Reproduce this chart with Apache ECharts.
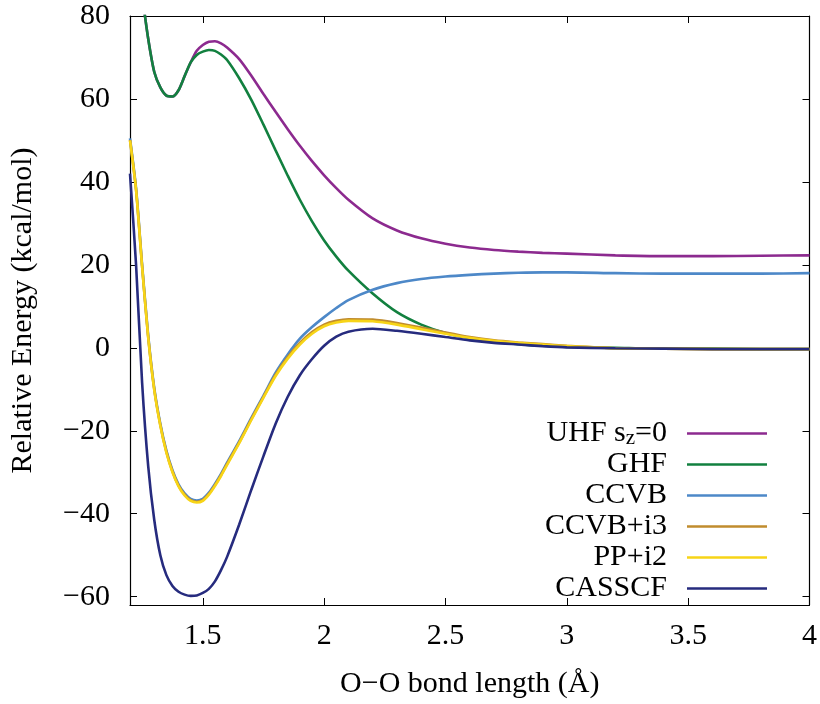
<!DOCTYPE html>
<html>
<head>
<meta charset="utf-8">
<script src="https://cdn.jsdelivr.net/npm/echarts@6/dist/echarts.min.js"></script>
<style>
  html, body { margin: 0; padding: 0; background: #fff; }
  #main { width: 820px; height: 704px; }
</style>
</head>
<body>
<div id="main"></div>
<script>
// O-O bond length (Angstrom)
var bondLength = [1.20, 1.225, 1.25, 1.275, 1.30, 1.325, 1.35, 1.375, 1.40, 1.425, 1.45, 1.475,
  1.50, 1.525, 1.55, 1.575, 1.60, 1.65, 1.70, 1.75, 1.80, 1.85, 1.90, 1.95, 2.00, 2.05, 2.10,
  2.20, 2.30, 2.40, 2.50, 2.60, 2.70, 2.80, 2.90, 3.00, 3.20, 3.40, 3.60, 3.80, 4.00];

// relative energies (kcal/mol)
var uhf = [105, 95, 85, 74.5, 66.5, 62.8, 60.8, 60.6, 62.1, 65.5, 68.8, 71.6,
  73.0, 73.8, 73.9, 73.4, 72.4, 69.6, 65.6, 61.2, 56.9, 52.7, 48.7, 45.0, 41.6, 38.5, 35.7,
  31.2, 28.3, 26.4, 25.1, 24.2, 23.6, 23.2, 22.9, 22.7, 22.3, 22.1, 22.1, 22.2, 22.3];
var ghf = [105, 95, 85, 74.5, 66.5, 62.8, 60.8, 60.6, 62.1, 65.5, 68.8, 70.6,
  71.4, 71.8, 71.6, 70.7, 69.4, 65.0, 59.8, 53.8, 47.6, 41.5, 35.7, 30.5, 25.9, 22.0, 18.6,
  13.1, 8.6, 5.6, 3.6, 2.4, 1.5, 0.9, 0.5, 0.2, 0.0, -0.2, -0.2, -0.3, -0.3];
var ccvb = [50.5, 38.5, 20.0, 3.0, -9.7, -18.3, -24.8, -29.5, -32.9, -35.1, -36.4, -36.8,
  -36.4, -34.9, -32.8, -30.4, -27.7, -22.5, -16.9, -11.5, -6.0, -1.6, 2.2, 5.0, 7.4, 9.6, 11.5,
  14.0, 15.6, 16.6, 17.2, 17.6, 17.9, 18.1, 18.2, 18.2, 18.0, 17.9, 17.9, 17.9, 18.0];
var ccvbI3 = [50.1, 38.1, 19.6, 2.6, -10.0, -18.6, -25.1, -29.8, -33.2, -35.4, -36.7, -37.1,
  -36.7, -35.2, -33.1, -30.7, -28.0, -22.8, -17.2, -11.8, -6.5, -2.2, 1.2, 3.8, 5.6, 6.5, 6.9,
  6.8, 6.0, 4.9, 3.7, 2.6, 1.8, 1.3, 0.9, 0.5, -0.1, -0.2, -0.3, -0.3, -0.3];
var ppI2 = [50.0, 38.0, 19.5, 2.5, -10.2, -18.8, -25.3, -30.0, -33.4, -35.6, -36.9, -37.3,
  -36.9, -35.4, -33.3, -30.9, -28.2, -23.0, -17.4, -12.0, -6.8, -2.6, 0.8, 3.4, 5.2, 6.1, 6.5,
  6.4, 5.6, 4.5, 3.4, 2.4, 1.7, 1.2, 0.8, 0.4, -0.1, -0.2, -0.3, -0.3, -0.3];
var casscf = [42.0, 20.0, -8.5, -28.5, -41.5, -50.0, -54.8, -57.4, -58.8, -59.5, -59.8, -59.7,
  -59.1, -58.1, -56.3, -53.6, -50.4, -42.6, -34.2, -26.1, -18.3, -11.8, -6.6, -2.7, 0.5, 2.7, 3.9,
  4.6, 4.1, 3.4, 2.6, 1.8, 1.2, 0.8, 0.4, 0.1, -0.1, -0.2, -0.3, -0.3, -0.3];

var xTicks = [1.5, 2, 2.5, 3, 3.5, 4];
var yTicks = [-60, -40, -20, 0, 20, 40, 60, 80];

var names = ['UHF s_z=0', 'GHF', 'CCVB', 'CCVB+i3', 'PP+i2', 'CASSCF'];
var values = [uhf, ghf, ccvb, ccvbI3, ppI2, casscf];
var colors = ['#8c2a8f', '#12803f', '#4d88c8', '#c08c2e', '#f7d417', '#262b7e'];

function pairs(ys) {
  return bondLength.map(function (x, i) { return [x, ys[i]]; });
}

var font = '"Liberation Serif", "DejaVu Serif", serif';
var chart = echarts.init(document.getElementById('main'));

var series = names.map(function (n, k) {
  return {
    name: n,
    type: 'line',
    data: pairs(values[k]),
    showSymbol: false,
    symbol: 'none',
    smooth: 0.25,
    clip: true,
    lineStyle: { color: colors[k], width: 2.6 },
    itemStyle: { color: colors[k] },
    z: 2 + k
  };
});

var tickStyle = { show: true, inside: true, length: 7, lineStyle: { color: '#000', width: 1 } };
var lineStyle = { show: true, onZero: false, lineStyle: { color: '#000', width: 1.2 } };

var option = {
  animation: false,
  backgroundColor: '#fff',
  textStyle: { fontFamily: font },
  grid: { left: 129, right: 10, top: 16, bottom: 93 },
  legend: {
    data: names,
    orient: 'vertical',
    right: 53,
    top: 414,
    padding: 0,
    align: 'right',
    itemWidth: 80,
    itemHeight: 31,
    itemGap: 0,
    icon: 'path://M0,14.2 L80,14.2 L80,16.8 L0,16.8 Z',
    formatter: function (n) {
      return n === 'UHF s_z=0' ? 'UHF s{sub|z}=0' : n;
    },
    textStyle: {
      fontFamily: font, fontSize: 30, lineHeight: 31, color: '#000', padding: [0, 15, 0, 0],
      rich: {
        sub: { fontFamily: font, fontSize: 21, lineHeight: 31, color: '#000', verticalAlign: 'bottom', padding: [14, 0, 0, 0] }
      }
    }
  },
  xAxis: [{
    type: 'value',
    min: 1.2, max: 4,
    name: 'O\u2212O bond length (\u00c5)',
    nameLocation: 'middle',
    nameGap: 64,
    nameTextStyle: { fontFamily: font, fontSize: 30, color: '#000' },
    axisLine: lineStyle,
    axisTick: Object.assign({ customValues: xTicks }, tickStyle),
    axisLabel: { customValues: xTicks, margin: 16, fontFamily: font, fontSize: 30, color: '#000' },
    splitLine: { show: false }
  }, {
    type: 'value',
    position: 'top',
    min: 1.2, max: 4,
    axisLine: lineStyle,
    axisTick: Object.assign({ customValues: xTicks }, tickStyle),
    axisLabel: { show: false },
    splitLine: { show: false }
  }],
  yAxis: [{
    type: 'value',
    min: -62, max: 80,
    name: 'Relative Energy (kcal/mol)',
    nameLocation: 'middle',
    nameGap: 92,
    nameTextStyle: { fontFamily: font, fontSize: 30, color: '#000' },
    axisLine: lineStyle,
    axisTick: Object.assign({ customValues: yTicks }, tickStyle),
    axisLabel: {
      customValues: yTicks, margin: 20, fontFamily: font, fontSize: 30, color: '#000',
      formatter: function (v) { return String(v).replace('-', '\u2212'); }
    },
    splitLine: { show: false }
  }, {
    type: 'value',
    position: 'right',
    min: -62, max: 80,
    axisLine: lineStyle,
    axisTick: Object.assign({ customValues: yTicks }, tickStyle),
    axisLabel: { show: false },
    splitLine: { show: false }
  }],
  series: series
};

chart.setOption(option);
</script>
</body>
</html>
